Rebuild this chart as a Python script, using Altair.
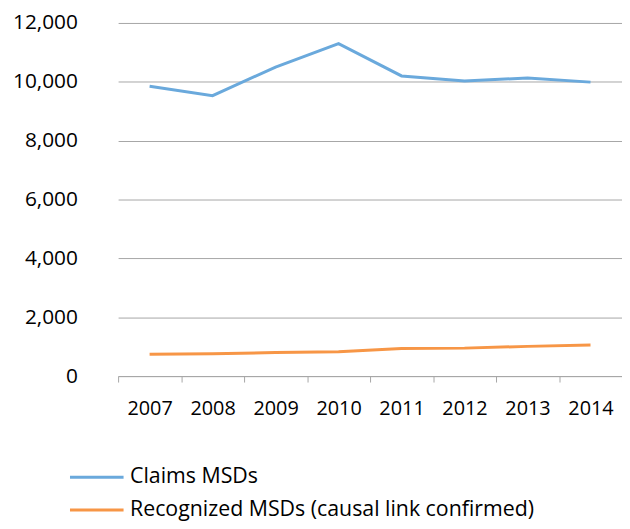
import altair as alt
import pandas as pd

years = ["2007", "2008", "2009", "2010", "2011", "2012", "2013", "2014"]
claims = [9850, 9530, 10500, 11300, 10200, 10030, 10130, 9990]
recognized = [740, 760, 800, 830, 940, 950, 1010, 1055]
series_names = ["Claims MSDs", "Recognized MSDs (causal link confirmed)"]
colors = ["#6AA9DC", "#F79646"]
y_ticks = [0, 2000, 4000, 6000, 8000, 10000, 12000]

rows = []
for i, y in enumerate(years):
    rows.append({"year": y, "series": series_names[0], "value": claims[i]})
    rows.append({"year": y, "series": series_names[1], "value": recognized[i]})
df = pd.DataFrame(rows)

FONT = "Open Sans"

chart = alt.Chart(df).mark_line(strokeWidth=3).encode(
    x=alt.X("year:N", bandPosition=0.5,
            scale=alt.Scale(type="band", paddingInner=0, paddingOuter=0),
            axis=alt.Axis(title=None, labelAngle=0, tickBand="extent", tickExtra=True,
                          domainColor="#A6A6A6", tickColor="#A6A6A6", tickSize=6,
                          labelPadding=17, labelFontSize=20, labelColor="#000000",
                          labelFont=FONT, grid=False)),
    y=alt.Y("value:Q", scale=alt.Scale(domain=[0, 12000], nice=False),
            axis=alt.Axis(title=None, values=y_ticks, format=",.0f", domain=False, ticks=False,
                          gridColor="#A6A6A6", labelPadding=41, labelFontSize=21,
                          labelColor="#000000", labelFont=FONT)),
    color=alt.Color("series:N", scale=alt.Scale(domain=series_names, range=colors),
                    legend=alt.Legend(title=None, orient="none", legendX=-50, legendY=448,
                                      symbolType="stroke", symbolSize=2916, symbolStrokeWidth=3,
                                      labelFontSize=21.5, labelFont=FONT, labelColor="#000000",
                                      labelLimit=0, clipHeight=20, rowPadding=11, labelOffset=5,
                                      padding=0, direction="vertical")),
).properties(
    width=508, height=356,
    autosize=alt.AutoSizeParams(type="none"),
    padding={"left": 111, "top": 13, "right": 0, "bottom": 144},
).configure_view(stroke=None)

chart.save("out.html", embed_options={"renderer": "svg", "actions": False})
